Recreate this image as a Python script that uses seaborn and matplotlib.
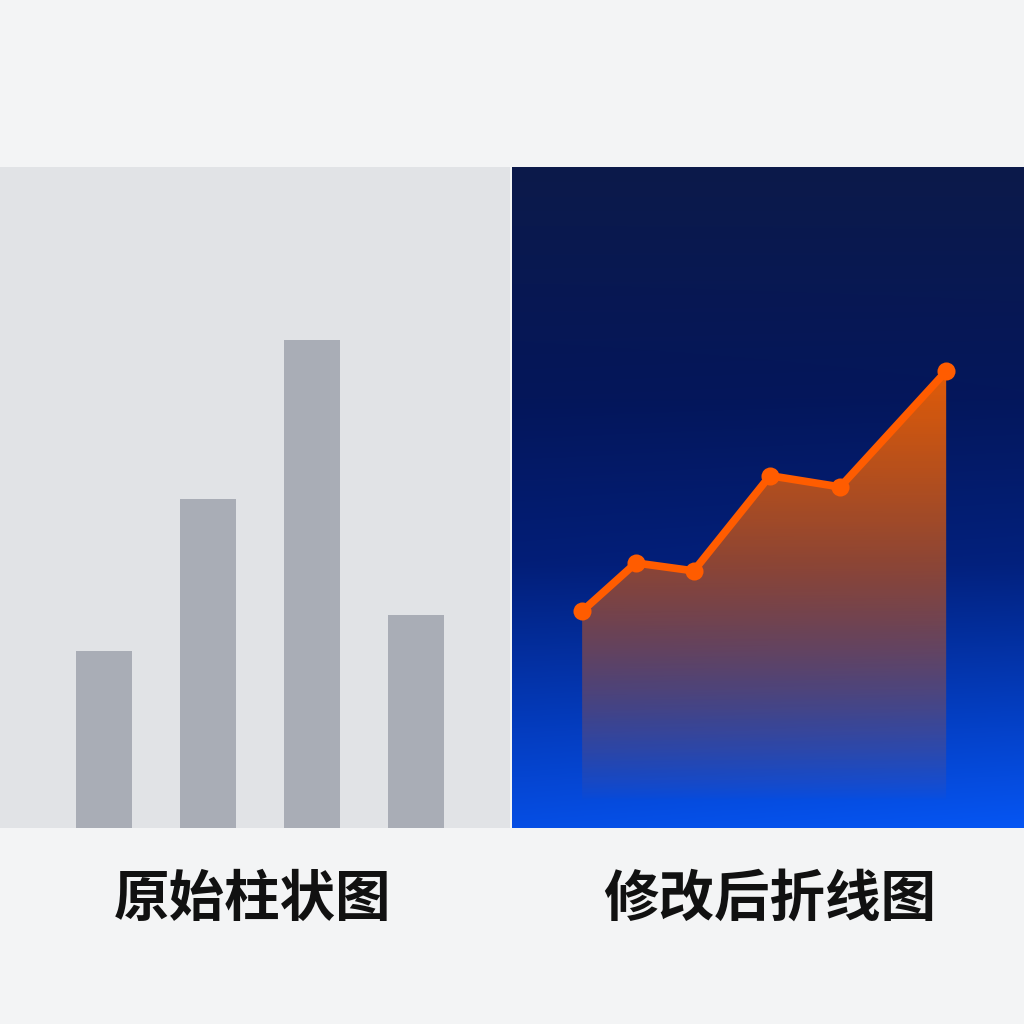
import numpy as np
import pandas as pd
import matplotlib
matplotlib.use("Agg")
import matplotlib.pyplot as plt
import seaborn as sns

# bar chart data (left panel)
bar_cats = ["A", "B", "C", "D"]
bar_vals = [26.8, 49.8, 73.8, 32.2]

# line chart data (right panel)
line_x = [13.7, 24.2, 35.5, 50.4, 64.1, 84.8]
line_y = [32.8, 40.1, 38.9, 53.3, 51.6, 69.1]

captions = ["原始柱状图", "修改后折线图"]

sns.set_theme(style="white")
plt.rcParams["font.family"] = ["Noto Sans CJK SC", "DejaVu Sans"]

fig = plt.figure(figsize=(10.24, 10.24), dpi=100)
fig.patch.set_facecolor("#f3f4f5")

H = 1024.0
ax_l = fig.add_axes([0, (H - 828) / H, 510 / H, (828 - 167) / H])
ax_r = fig.add_axes([512 / H, (H - 828) / H, 512 / H, (828 - 167) / H])

# left: plain bars
ax_l.set_facecolor("#e1e3e6")
bar_df = pd.DataFrame({"cat": bar_cats, "val": bar_vals})
sns.barplot(data=bar_df, x="cat", y="val", color="#a9adb6", width=0.54,
            saturation=1, linewidth=0, edgecolor="none", ax=ax_l)
ax_l.set_xlim(-1.0, 3.904)
ax_l.set_ylim(0, 100)

# right: gradient background
stops_t = [0.0, 0.35, 0.6, 0.85, 1.0]
stops_c = np.array([[12, 26, 74], [4, 22, 90], [2, 30, 120],
                    [4, 60, 190], [6, 78, 228]]) / 255.0
ny, nx = 300, 200
t = np.linspace(0, 1, ny)
bg = np.zeros((ny, nx, 3))
for k in range(3):
    col = np.interp(t, stops_t, stops_c[:, k])
    bg[:, :, k] = col[:, None]
hx = np.linspace(0, 1, nx)
bg[:, :, 2] += (t[:, None] ** 2) * hx[None, :] * 0.06
bg[:, :, 1] += (t[:, None] ** 2) * hx[None, :] * 0.03
bg = np.clip(bg, 0, 1)
ax_r.imshow(bg, extent=(0, 100, 0, 100), aspect="auto", origin="upper", zorder=0)

# gradient fill under the line
fill = ax_r.fill_between(line_x, line_y, 0, color="none", lw=0)
yy = np.linspace(100, 0, 400)
alpha = np.clip((yy - 4) / (69 - 4), 0, 1) ** 0.8 * 0.95
grad = np.zeros((400, 2, 4))
grad[:, :, 0] = 0.93
grad[:, :, 1] = 0.38
grad[:, :, 2] = 0.02
grad[:, :, 3] = alpha[:, None]
im = ax_r.imshow(grad, extent=(0, 100, 0, 100), aspect="auto", origin="upper", zorder=1)
im.set_clip_path(fill.get_paths()[0], transform=ax_r.transData)

line_df = pd.DataFrame({"x": line_x, "y": line_y})
sns.lineplot(data=line_df, x="x", y="y", color="#ff5c00", lw=5.5, marker="o",
             markersize=13, markeredgewidth=0, ax=ax_r, zorder=3)
ax_r.set_xlim(0, 100)
ax_r.set_ylim(0, 100)

for ax in (ax_l, ax_r):
    ax.set_xticks([])
    ax.set_yticks([])
    ax.set_xlabel("")
    ax.set_ylabel("")
    for s in ax.spines.values():
        s.set_visible(False)

fig.text(253 / H, 1 - 900 / H, captions[0], ha="center", va="center",
         fontsize=40, fontweight="bold", color="#111111")
fig.text(770 / H, 1 - 900 / H, captions[1], ha="center", va="center",
         fontsize=40, fontweight="bold", color="#111111")

fig.savefig("out.png", dpi=100, facecolor=fig.get_facecolor())
